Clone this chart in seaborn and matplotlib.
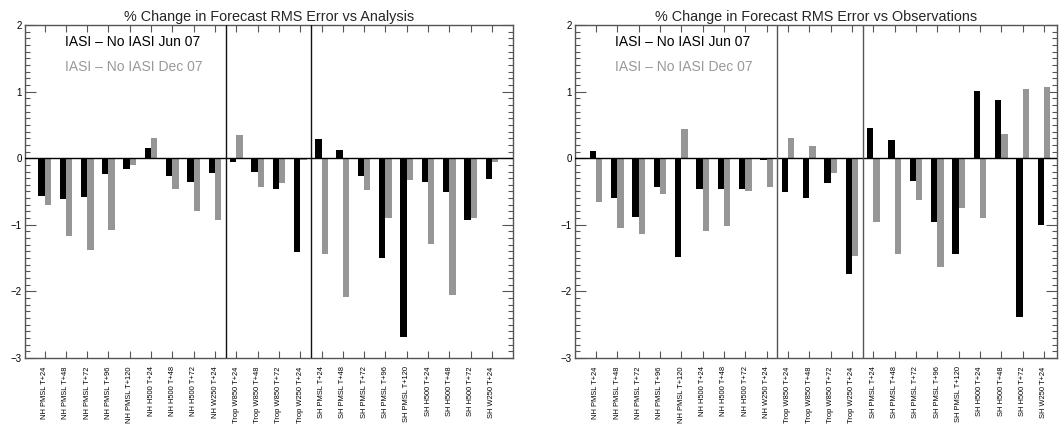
import matplotlib
matplotlib.use("Agg")
import matplotlib.pyplot as plt
import numpy as np
import pandas as pd
import seaborn as sns
from matplotlib.ticker import MultipleLocator

# Forecast verification categories (region, field, lead time)
categories = [
    "NH PMSL T+24", "NH PMSL T+48", "NH PMSL T+72", "NH PMSL T+96", "NH PMSL T+120",
    "NH H500 T+24", "NH H500 T+48", "NH H500 T+72", "NH W250 T+24",
    "Trop W850 T+24", "Trop W850 T+48", "Trop W850 T+72", "Trop W250 T+24",
    "SH PMSL T+24", "SH PMSL T+48", "SH PMSL T+72", "SH PMSL T+96", "SH PMSL T+120",
    "SH H500 T+24", "SH H500 T+48", "SH H500 T+72", "SH W250 T+24",
]

series_names = ["IASI – No IASI Jun 07", "IASI – No IASI Dec 07"]

# % change in RMS error, verified against analysis
anl_jun = [-0.575, -0.61, -0.59, -0.235, -0.16, 0.16, -0.265, -0.36, -0.215,
           -0.05, -0.205, -0.46, -1.415,
           0.29, 0.125, -0.26, -1.505, -2.69, -0.35, -0.515, -0.93, -0.305]
anl_dec = [-0.70, -1.175, -1.385, -1.075, -0.10, 0.31, -0.46, -0.80, -0.935,
           0.35, -0.425, -0.365, -0.02,
           -1.445, -2.09, -0.47, -0.905, -0.32, -1.295, -2.06, -0.905, -0.05]

# % change in RMS error, verified against observations
obs_jun = [0.115, -0.60, -0.885, -0.435, -1.49, -0.465, -0.455, -0.465, -0.025,
           -0.515, -0.605, -0.365, -1.745,
           0.455, 0.275, -0.335, -0.965, -1.445, 1.01, 0.875, -2.39, -1.01]
obs_dec = [-0.66, -1.05, -1.14, -0.54, 0.44, -1.10, -1.025, -0.50, -0.435,
           0.305, 0.185, -0.215, -1.475,
           -0.965, -1.445, -0.635, -1.64, -0.755, -0.905, 0.365, 1.04, 1.07]

titles = ["% Change in Forecast RMS Error vs Analysis",
          "% Change in Forecast RMS Error vs Observations"]

sns.set_style("ticks")
plt.rcParams["font.family"] = ["Liberation Sans", "DejaVu Sans"]

BLACK = "#000000"
GREY = "#969696"
SPINE = "#555555"

W, H = 1062, 424
fig = plt.figure(figsize=(W / 100, H / 100), dpi=100)
ax1 = fig.add_axes([25 / W, 1 - 358 / H, 488 / W, 333 / H])
ax2 = fig.add_axes([575 / W, 1 - 358 / H, 482 / W, 333 / H])


def draw_panel(ax, jun, dec, title, xlim, sep_color):
    df = pd.DataFrame({
        "category": categories * 2,
        "value": list(jun) + list(dec),
        "series": [series_names[0]] * len(categories) + [series_names[1]] * len(categories),
    })
    sns.barplot(data=df, x="category", y="value", hue="series", order=categories,
                hue_order=series_names, palette=[BLACK, GREY], saturation=1,
                width=0.6, linewidth=0, legend=False, ax=ax, errorbar=None)

    ax.axhline(0, color="black", lw=1.0, zorder=3)
    for xs in (8.5, 12.5):
        ax.axvline(xs, color=sep_color, lw=1.0, zorder=3)

    ax.set_xlim(*xlim)
    ax.set_ylim(-3, 2)
    ax.set_xlabel("")
    ax.set_ylabel("")

    ax.yaxis.set_major_locator(MultipleLocator(1))
    ax.yaxis.set_minor_locator(MultipleLocator(0.1))
    ax.tick_params(axis="y", which="major", direction="in", length=8, width=0.8,
                   left=True, right=True, labelsize=7, pad=2.5, colors=SPINE,
                   labelcolor="black")
    ax.tick_params(axis="y", which="minor", direction="in", length=3.5, width=0.8,
                   left=True, right=True, colors=SPINE)
    ax.tick_params(axis="x", which="major", direction="in", length=5, width=0.8,
                   top=True, bottom=True, labelsize=5.4, labelrotation=90,
                   pad=6, colors=SPINE, labelcolor="black")

    for sp in ax.spines.values():
        sp.set_visible(True)
        sp.set_color(SPINE)
        sp.set_linewidth(1.0)

    ax.set_title(title, fontsize=10.4, pad=3)
    ax.text(0.082, 0.949, series_names[0], transform=ax.transAxes, fontsize=10,
            color=BLACK, ha="left", va="center")
    ax.text(0.082, 0.874, series_names[1], transform=ax.transAxes, fontsize=10,
            color="#999999", ha="left", va="center")


draw_panel(ax1, anl_jun, anl_dec, titles[0], (-0.92, 21.99), "#111111")
draw_panel(ax2, obs_jun, obs_dec, titles[1], (-0.98, 21.61), "#555555")

fig.savefig("out.png", dpi=100)
